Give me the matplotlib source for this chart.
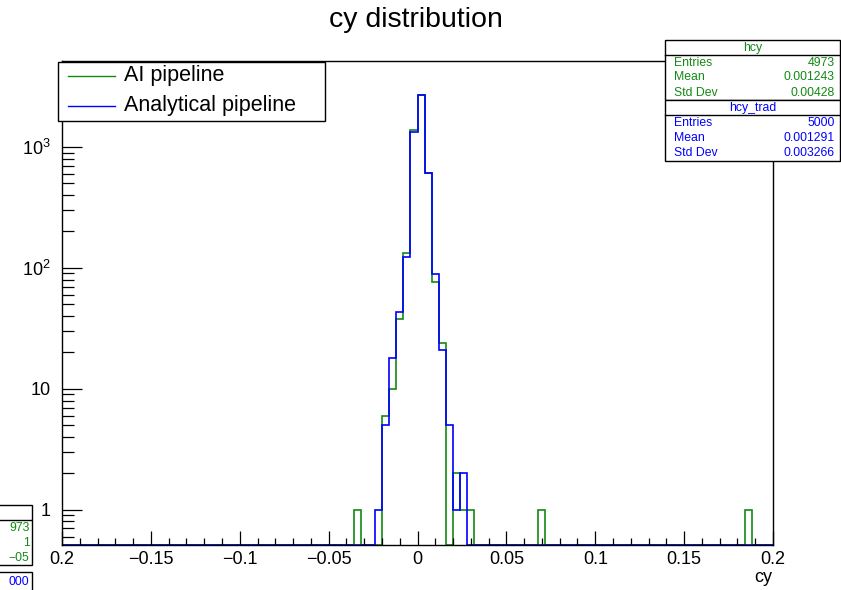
import numpy as np
import matplotlib
matplotlib.use("Agg")
import matplotlib.pyplot as plt
from matplotlib.patches import Rectangle
from matplotlib.lines import Line2D
from matplotlib.ticker import FixedLocator, NullFormatter

plt.rcParams['font.family'] = ['Liberation Sans', 'DejaVu Sans']
plt.rcParams['mathtext.fontset'] = 'custom'
plt.rcParams['mathtext.rm'] = 'Liberation Sans'
plt.rcParams['mathtext.it'] = 'Liberation Sans:italic'

# ---------------- data ----------------
title = "cy distribution"
x_label = "cy"
series_names = ["AI pipeline", "Analytical pipeline"]
n_bins = 100
x_range = (-0.2, 0.2)

ai_bin_low = [-0.036, -0.020, -0.016, -0.012, -0.008, -0.004, 0.000, 0.004,
              0.008, 0.012, 0.020, 0.024, 0.028, 0.068, 0.184]
ai_counts = [1, 6, 10, 38, 134, 1370, 2700, 615, 77, 24, 2, 1, 1, 1, 1]

an_bin_low = [-0.024, -0.020, -0.016, -0.012, -0.008, -0.004, 0.000, 0.004,
              0.008, 0.012, 0.016, 0.020, 0.024]
an_counts = [1, 5, 18, 43, 122, 1320, 2690, 605, 89, 21, 5, 1, 2]

x_ticks = [-0.2, -0.15, -0.1, -0.05, 0.0, 0.05, 0.1, 0.15, 0.2]
x_tick_labels = ["0.2", "\u22120.15", "\u22120.1", "\u22120.05", "0", "0.05", "0.1", "0.15", "0.2"]
y_ticks = [1, 10, 100, 1000]
y_tick_labels = ["1", "10", "$10^{2}$", "$10^{3}$"]
y_range = (0.511, 5140)

stats_ai = [("Entries", "4973"), ("Mean", "0.001243"), ("Std Dev", "0.00428")]
stats_an = [("Entries", "5000"), ("Mean", "0.001291"), ("Std Dev", "0.003266")]
stats_names = ["hcy", "hcy_trad"]

# visible fragments of a stale stats box at the bottom-left corner
stale_ai_fragments = ["973", "1", "\u221205"]
stale_an_fragments = ["000"]

# ---------------- colours ----------------
c_ai = "#138a13"
c_an = "#0000ff"

W, H = 841, 590
fig = plt.figure(figsize=(W / 100, H / 100), dpi=100)

def fx(x):
    return x / W

def fy(y):
    return 1 - y / H

ax_l, ax_r, ax_t, ax_b = 62, 773, 61, 545
ax = fig.add_axes([fx(ax_l), fy(ax_b), (ax_r - ax_l) / W, (ax_b - ax_t) / H])

edges = np.linspace(x_range[0], x_range[1], n_bins + 1)

def fill(lows, counts):
    h = np.zeros(n_bins)
    idx = np.round((np.array(lows) - x_range[0]) / (edges[1] - edges[0])).astype(int)
    h[idx] = counts
    return h

h_ai = fill(ai_bin_low, ai_counts)
h_an = fill(an_bin_low, an_counts)

for h, c in [(h_ai, c_ai), (h_an, c_an)]:
    vals = np.maximum(h, y_range[0])
    ax.stairs(vals, edges, baseline=None, color=c, lw=1.2)

ax.set_yscale('log')
ax.set_xlim(*x_range)
ax.set_ylim(*y_range)

for s in ax.spines.values():
    s.set_linewidth(1.0)

ax.set_xticks(x_ticks)
ax.set_xticklabels(x_tick_labels, fontsize=13)
ax.xaxis.set_minor_locator(FixedLocator(np.round(np.arange(-0.2, 0.2001, 0.01), 3)))
ax.tick_params(axis='x', which='major', direction='in', length=10, width=0.9, pad=4,
               top=False, bottom=True)
ax.tick_params(axis='x', which='minor', direction='in', length=5, width=0.9,
               top=False, bottom=True)

ax.yaxis.set_major_locator(FixedLocator(y_ticks))
ax.set_yticklabels(y_tick_labels, fontsize=13)
minors = [0.6, 0.7, 0.8, 0.9]
for d in [1, 10, 100, 1000]:
    minors += [d * k for k in range(2, 10)]
minors = [m for m in minors if m <= y_range[1]]
ax.yaxis.set_minor_locator(FixedLocator(minors))
ax.yaxis.set_minor_formatter(NullFormatter())
ax.tick_params(axis='y', which='major', direction='in', length=14.5, width=0.9, pad=8,
               left=True, right=False)
ax.tick_params(axis='y', which='minor', direction='in', length=8.5, width=0.9,
               left=True, right=False)

# title and axis label
fig.text(fx(416), fy(20), title, fontsize=20.5, ha='center', va='center')
fig.text(fx(772), fy(578), x_label, fontsize=13, ha='right', va='center')

# legend box
fig.patches.append(Rectangle((fx(58), fy(121)), (325 - 58) / W, (121 - 62) / H,
                             transform=fig.transFigure, facecolor='white',
                             edgecolor='black', lw=1.0, zorder=5))
for i, (name, c) in enumerate(zip(series_names, [c_ai, c_an])):
    yy = [75.5, 105.5][i]
    fig.lines.append(Line2D([fx(68), fx(115)], [fy(yy), fy(yy)], color=c, lw=1.0,
                            transform=fig.transFigure, zorder=6))
    fig.text(fx(124), fy(yy), name, fontsize=15.5, ha='left', va='center', zorder=6)

# stats boxes (top right)
def box(left, top, right, bottom, seps=()):
    fig.patches.append(Rectangle((fx(left), fy(bottom)), (right - left) / W, (bottom - top) / H,
                                 transform=fig.transFigure, facecolor='white',
                                 edgecolor='black', lw=1.0, zorder=5))
    for s in seps:
        fig.lines.append(Line2D([fx(left), fx(right)], [fy(s), fy(s)], color='black', lw=1.0,
                                transform=fig.transFigure, zorder=6))

def stats_box(top, bottom, name, rows, color, left=665, right=840):
    sep = top + 15
    box(left, top, right, bottom, seps=[sep])
    fig.text(fx((left + right) / 2), fy(top + 7.5), name, fontsize=8.8, color=color,
             ha='center', va='center', zorder=6)
    step = (bottom - sep) / len(rows)
    for j, (k, v) in enumerate(rows):
        yy = sep + step * (j + 0.5)
        fig.text(fx(left + 9), fy(yy), k, fontsize=8.8, color=color, ha='left', va='center', zorder=6)
        fig.text(fx(right - 5), fy(yy), v, fontsize=8.8, color=color, ha='right', va='center', zorder=6)

stats_box(40, 100, stats_names[0], stats_ai, c_ai)
stats_box(100, 161, stats_names[1], stats_an, c_an)

# stale stats box, only its right edge visible in the bottom-left corner
box(-20, 505, 31.5, 565, seps=[520])
for j, t in enumerate(stale_ai_fragments):
    fig.text(fx(29.5), fy(528 + 15 * j), t, fontsize=8.8, color=c_ai,
             ha='right', va='center', zorder=6)
box(-20, 572, 31.5, 640)
for t in stale_an_fragments:
    fig.text(fx(29.5), fy(582), t, fontsize=8.8, color=c_an, ha='right', va='center', zorder=6)

fig.savefig("out.png", dpi=100)
